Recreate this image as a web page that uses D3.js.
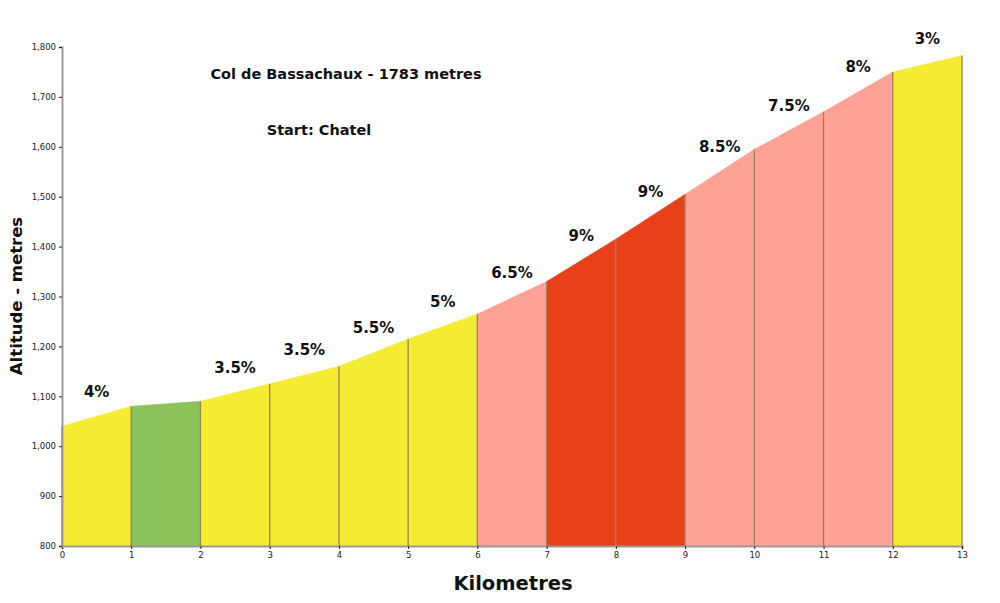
<!DOCTYPE html>
<html>
<head>
    <meta charset="utf-8">
    <title>Col de Bassachaux</title>
    <style type="text/css">
        body{margin:0;background:#fff}
        .tick text{font-family:'DejaVu Sans',sans-serif;font-size:8.5px;fill:#222}
        .lbl{font-family:'DejaVu Sans',sans-serif;font-weight:bold;fill:#111}
    </style>
</head>
<body>
    <script src="https://d3js.org/d3.v7.min.js"></script>
    <script>
      // profile data
      var km       = [0, 1, 2, 3, 4, 5, 6, 7, 8, 9, 10, 11, 12, 13];
      var altitude = [1040, 1080, 1090, 1125, 1160, 1215, 1265, 1330, 1415, 1505, 1595, 1670, 1750, 1783];
      var grades   = [4, 1, 3.5, 3.5, 5.5, 5, 6.5, 9, 9, 8.5, 7.5, 8, 3];
      var gradeLabels = ["4%", "", "3.5%", "3.5%", "5.5%", "5%", "6.5%", "9%", "9%", "8.5%", "7.5%", "8%", "3%"];
      var yTicks = [800, 900, 1000, 1100, 1200, 1300, 1400, 1500, 1600, 1700, 1800];

      var margin = {top:47, right:38, bottom:57, left:62},
          width  = 1000 - margin.left - margin.right,
          height = 603 - margin.top - margin.bottom;

      var svg = d3.select("body")
          .append("svg")
          .attr("width", 1000)
          .attr("height", 603);

      var chart = svg.append("g")
          .attr("transform", "translate(" + margin.left + "," + margin.top + ")");

      var xScale = d3.scaleLinear().domain([0, 13]).range([0, width]);
      var yScale = d3.scaleLinear().domain([800, 1800]).range([height, 0]);

      // colour by gradient of each km
      var colour = d3.scaleThreshold()
          .domain([2, 6, 8.75])
          .range(["#8bc25a", "#f5eb33", "#ffa194", "#e8411a"]);

      var segs = d3.range(km.length - 1).map(function(i){
          return {
              x0: km[i], x1: km[i+1], a0: altitude[i], a1: altitude[i+1],
              grade: grades[i],
              label: gradeLabels[i]
          };
      });

      chart.selectAll(".seg")
          .data(segs)
          .enter()
          .append("path")
          .attr("class", "seg")
          .attr("d", function(d){
              return "M" + xScale(d.x0) + "," + yScale(800) +
                     "L" + xScale(d.x0) + "," + yScale(d.a0) +
                     "L" + xScale(d.x1) + "," + yScale(d.a1) +
                     "L" + xScale(d.x1) + "," + yScale(800) + "Z";
          })
          .attr("fill", function(d){ return colour(d.grade); })
          .attr("stroke", function(d){ return colour(d.grade); })
          .attr("stroke-width", 0.5);

      // km separators
      chart.selectAll(".sep")
          .data(km)
          .enter()
          .append("line")
          .attr("class", "sep")
          .attr("x1", function(d){ return xScale(d); })
          .attr("x2", function(d){ return xScale(d); })
          .attr("y1", yScale(800))
          .attr("y2", function(d, i){ return yScale(altitude[i]); })
          .attr("stroke", "#a08258")
          .attr("stroke-width", 1.3);

      // gradient labels
      chart.selectAll(".grade")
          .data(segs.filter(function(d){ return d.label; }))
          .enter()
          .append("text")
          .attr("class", "lbl")
          .attr("x", function(d){ return xScale((d.x0 + d.x1) / 2); })
          .attr("y", function(d){ return yScale((d.a0 + d.a1) / 2) - 25; })
          .attr("dy", "0.35em")
          .attr("text-anchor", "middle")
          .attr("font-size", "15px")
          .text(function(d){ return d.label; });

      // axes
      var xAxis = chart.append("g")
          .attr("transform", "translate(0," + height + ")")
          .call(d3.axisBottom(xScale).tickValues(km).tickFormat(d3.format("d")).tickSize(3).tickPadding(3));
      var yAxis = chart.append("g")
          .call(d3.axisLeft(yScale).tickValues(yTicks).tickFormat(d3.format(",")).tickSize(3).tickPadding(3));

      [xAxis, yAxis].forEach(function(a){
          a.select(".domain").attr("stroke", "#9a9a9a").attr("stroke-width", 2);
          a.selectAll(".tick line").attr("stroke", "#222");
      });

      // titles
      svg.append("text").attr("class", "lbl")
          .attr("x", 346).attr("y", 74).attr("dy", "0.35em")
          .attr("text-anchor", "middle").attr("font-size", "14.5px")
          .text("Col de Bassachaux - 1783 metres");
      svg.append("text").attr("class", "lbl")
          .attr("x", 319).attr("y", 130).attr("dy", "0.35em")
          .attr("text-anchor", "middle").attr("font-size", "14.5px")
          .text("Start: Chatel");

      svg.append("text").attr("class", "lbl")
          .attr("x", 513).attr("y", 583).attr("dy", "0.35em")
          .attr("text-anchor", "middle").attr("font-size", "19.5px")
          .text("Kilometres");
      svg.append("text").attr("class", "lbl")
          .attr("transform", "translate(16,296) rotate(-90)")
          .attr("dy", "0.35em")
          .attr("text-anchor", "middle").attr("font-size", "16.5px")
          .text("Altitude - metres");
    </script>
</body>
</html>
